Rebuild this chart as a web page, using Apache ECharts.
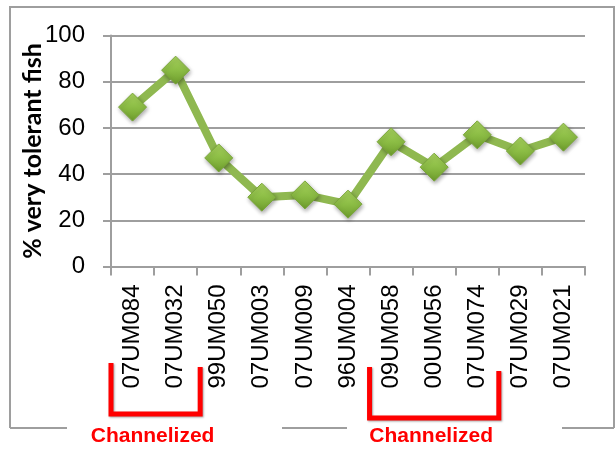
<!DOCTYPE html>
<html>
<head>
<meta charset="utf-8">
<script src="https://cdn.jsdelivr.net/npm/echarts@6/dist/echarts.min.js"></script>
<style>
  html, body { margin: 0; padding: 0; background: #ffffff; }
  #chart { width: 615px; height: 449px; }
</style>
</head>
<body>
<div id="chart"></div>
<script>
// Sampling sites along the stream
const sites = ['07UM084', '07UM032', '99UM050', '07UM003', '07UM009', '96UM004',
               '09UM058', '00UM056', '07UM074', '07UM029', '07UM021'];
// Share of very tolerant fish at each site (%)
const tolerantPct = [69, 85, 47, 30, 31, 27, 54, 43, 57, 50, 56];
// Value axis ticks
const yMin = 0, yMax = 100, yStep = 20;
// Site ranges that were channelized (first and last site index)
const channelizedGroups = [[0, 1], [6, 8]];
const groupLabel = 'Channelized';

const gray = '#9e9e9e';
const chart = echarts.init(document.getElementById('chart'));

chart.setOption({
  animation: false,
  grid: { left: 111, right: 30, top: 35.5, bottom: 182.5, containLabel: false },
  xAxis: {
    type: 'category',
    data: sites,
    boundaryGap: true,
    axisLine: { show: true, lineStyle: { color: gray, width: 2 } },
    axisTick: { show: true, length: 9, alignWithLabel: false, lineStyle: { color: gray, width: 2 } },
    axisLabel: {
      rotate: 90, margin: 18, interval: 0,
      fontFamily: '"Liberation Sans", Arial, sans-serif',
      fontSize: 24, color: '#000'
    }
  },
  yAxis: {
    type: 'value',
    min: yMin, max: yMax, interval: yStep,
    name: '% very tolerant fish',
    nameLocation: 'middle',
    nameGap: 66,
    nameMoveOverlap: false,
    nameRotate: 90,
    nameTextStyle: { fontFamily: 'Lato, sans-serif', fontWeight: 'bold', fontSize: 25, color: '#000' },
    axisLine: { show: true, lineStyle: { color: gray, width: 2 } },
    axisTick: { show: true, length: 8, lineStyle: { color: gray, width: 2 } },
    splitLine: { show: true, lineStyle: { color: gray, width: 2 } },
    axisLabel: {
      margin: 26,
      fontFamily: '"Liberation Sans", Arial, sans-serif',
      fontSize: 24, color: '#000'
    }
  },
  series: [{
    type: 'line',
    data: tolerantPct,
    symbol: 'diamond',
    symbolSize: 28,
    lineStyle: { color: '#8fb850', width: 8 },
    itemStyle: {
      color: new echarts.graphic.LinearGradient(0, 0, 0, 1, [
        { offset: 0, color: '#a9d45f' },
        { offset: 0.5, color: '#8cbd45' },
        { offset: 1, color: '#6d9c2c' }
      ]),
      borderColor: '#7aa63a', borderWidth: 1,
      shadowColor: 'rgba(0,0,0,0.35)', shadowBlur: 4, shadowOffsetX: 1, shadowOffsetY: 2
    },
    z: 3
  }]
});

// Outer frame, with gaps in the bottom edge for the group labels
const frame = { left: 10, top: 7, right: 614, bottom: 428 };
const bottomSegments = [[frame.left, 67], [282, 347], [562, frame.right]];
const graphics = [
  { type: 'polyline', shape: { points: [[frame.left, frame.bottom], [frame.left, frame.top], [frame.right, frame.top], [frame.right, frame.bottom]] },
    style: { stroke: gray, lineWidth: 2, fill: null } }
];
bottomSegments.forEach(s => graphics.push({
  type: 'line', shape: { x1: s[0], y1: frame.bottom, x2: s[1], y2: frame.bottom },
  style: { stroke: gray, lineWidth: 2 }
}));

// Red brackets under the channelized sites
const halfBand = (chart.convertToPixel({ xAxisIndex: 0 }, sites[1]) - chart.convertToPixel({ xAxisIndex: 0 }, sites[0])) / 2;
const bracketTops = [[363, 367], [367, 371]];
const bracketBottoms = [414, 418];
channelizedGroups.forEach((g, i) => {
  const x1 = chart.convertToPixel({ xAxisIndex: 0 }, sites[g[0]]) - halfBand;
  const x2 = chart.convertToPixel({ xAxisIndex: 0 }, sites[g[1]]) + halfBand + (i === 0 ? 3 : 0);
  const yb = bracketBottoms[i];
  graphics.push({
    type: 'polyline',
    shape: { points: [[x1, bracketTops[i][0]], [x1, yb], [x2, yb], [x2, bracketTops[i][1]]] },
    style: { stroke: '#ff0000', lineWidth: 5, fill: null, lineJoin: 'miter',
             shadowColor: 'rgba(0,0,0,0.35)', shadowBlur: 2, shadowOffsetX: 1, shadowOffsetY: 1 },
    z: 10
  });
  graphics.push({
    type: 'text',
    x: (x1 + x2) / 2 - 3, y: 436,
    style: { text: groupLabel, fill: '#ff0000', align: 'center', verticalAlign: 'middle',
             font: 'bold 21px "Liberation Sans", Arial, sans-serif' },
    z: 10
  });
});
chart.setOption({ graphic: graphics });
</script>
</body>
</html>
